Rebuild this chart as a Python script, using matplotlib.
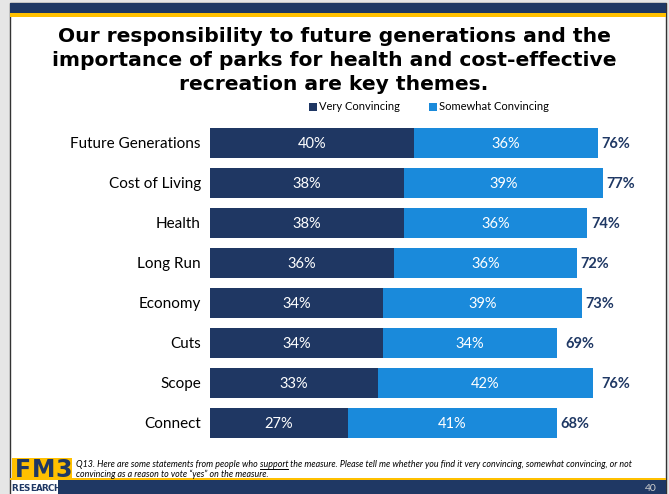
import matplotlib
matplotlib.use("Agg")
import matplotlib.pyplot as plt
from matplotlib.patches import Rectangle

categories = ["Future Generations", "Cost of Living", "Health", "Long Run",
              "Economy", "Cuts", "Scope", "Connect"]
very = [40, 38, 38, 36, 34, 34, 33, 27]
somewhat = [36, 39, 36, 36, 39, 34, 42, 41]
total = [76, 77, 74, 72, 73, 69, 76, 68]

title_lines = ["Our responsibility to future generations and the",
               "importance of parks for health and cost-effective",
               "recreation are key themes."]
legend_labels = ["Very Convincing", "Somewhat Convincing"]
footnote1 = "Q13. Here are some statements from people who "
footnote_u = "support"
footnote2 = (" the measure. Please tell me whether you find it very convincing, "
             "somewhat convincing, or not")
footnote3 = "convincing as a reason to vote \u201cyes\u201d on the measure."
page = "40"

DARK = "#1F3763"
LIGHT = "#1A8ADB"
NAVY = "#1F3864"
GOLD = "#FFC000"

W, H = 669, 494
fig = plt.figure(figsize=(W / 100, H / 100), dpi=100)
fig.patch.set_facecolor("#E6E6E6")

def px(x, y, w, h):
    return (x / W, 1 - (y + h) / H, w / W, h / H)

# slide background
bg = fig.add_axes([0, 0, 1, 1])
bg.set_xlim(0, W); bg.set_ylim(H, 0); bg.axis("off")
bg.add_patch(Rectangle((10, 3), 656, 494, facecolor="white", edgecolor="#333333", lw=1.0))
bg.add_patch(Rectangle((10, 3), 656, 10, facecolor=NAVY, edgecolor="none"))
bg.add_patch(Rectangle((10, 13), 656, 4, facecolor=GOLD, edgecolor="none"))
bg.add_patch(Rectangle((10, 478), 656, 2, facecolor=GOLD, edgecolor="none"))
bg.add_patch(Rectangle((58, 480), 608, 14, facecolor=NAVY, edgecolor="none"))
bg.add_patch(Rectangle((12, 458), 60, 22, facecolor=GOLD, edgecolor="none"))
for ch, xc in zip("FM3", [23, 44, 64]):
    bg.text(xc, 470, ch, ha="center", va="center", fontsize=17, fontweight="bold",
            color=NAVY, family="DejaVu Sans")
for k, ch in enumerate("RESEARCH"):
    bg.text(15 + k * 6.0, 488, ch, ha="center", va="center", fontsize=6.3,
            fontweight="bold", color=NAVY, family="DejaVu Sans")
bg.text(651, 488, page, ha="center", va="center", fontsize=7.5, color="#D0D0D0", family="Lato")

# title
for yc, line in zip([37, 60, 84], title_lines):
    bg.text(334, yc, line, ha="center", va="center", fontsize=14.6, fontweight="bold",
            color="black", family="DejaVu Sans")

# legend
bg.add_patch(Rectangle((309, 103), 7.5, 7.5, facecolor=DARK, edgecolor="none"))
bg.text(319, 106.5, legend_labels[0], ha="left", va="center", fontsize=8, family="Lato")
bg.add_patch(Rectangle((429, 103), 7.5, 7.5, facecolor=LIGHT, edgecolor="none"))
bg.text(439, 106.5, legend_labels[1], ha="left", va="center", fontsize=8, family="Lato")

# footnote
FS = 6.4
t1 = bg.text(76, 464, footnote1, ha="left", va="center", fontsize=FS, style="italic",
             family="Lato")
fig.canvas.draw()
r = fig.canvas.get_renderer()
bb = t1.get_window_extent(r)
x2 = bb.x1 * W / fig.bbox.width
tu = bg.text(x2, 464, footnote_u, ha="left", va="center", fontsize=FS,
             style="italic", family="Lato")
bb2 = tu.get_window_extent(r)
ux0 = bb2.x0 * W / fig.bbox.width
ux1 = bb2.x1 * W / fig.bbox.width
bg.plot([ux0, ux1], [468.5, 468.5], color="black", lw=0.7)
bg.text(ux1, 464, footnote2, ha="left", va="center", fontsize=FS, style="italic", family="Lato")
bg.text(76, 474, footnote3, ha="left", va="center", fontsize=FS, style="italic", family="Lato")

# chart
ax = fig.add_axes(px(210, 123, 433.5, 320))
ax.set_xlim(0, 85)
ax.set_ylim(len(categories) - 0.5, -0.5)
ax.axis("off")
ypos = list(range(len(categories)))
ax.barh(ypos, very, height=0.73, color=DARK)
ax.barh(ypos, somewhat, left=very, height=0.73, color=LIGHT)
dy = 0.035
for i in ypos:
    ax.text(very[i] / 2, i + dy, f"{very[i]}%", ha="center", va="center", color="white",
            fontsize=10.5, family="Lato")
    ax.text(very[i] + somewhat[i] / 2, i + dy, f"{somewhat[i]}%", ha="center", va="center",
            color="white", fontsize=10.5, family="Lato")
    ax.text(total[i] + 0.7, i + dy, f"{total[i]}%", ha="left", va="center", color=NAVY,
            fontsize=10.5, fontweight="bold", family="Lato")
    ax.text(-1.8, i + dy, categories[i], ha="right", va="center", color="black",
            fontsize=11, family="Lato", clip_on=False)

fig.savefig("out.png", dpi=100, facecolor=fig.get_facecolor())
